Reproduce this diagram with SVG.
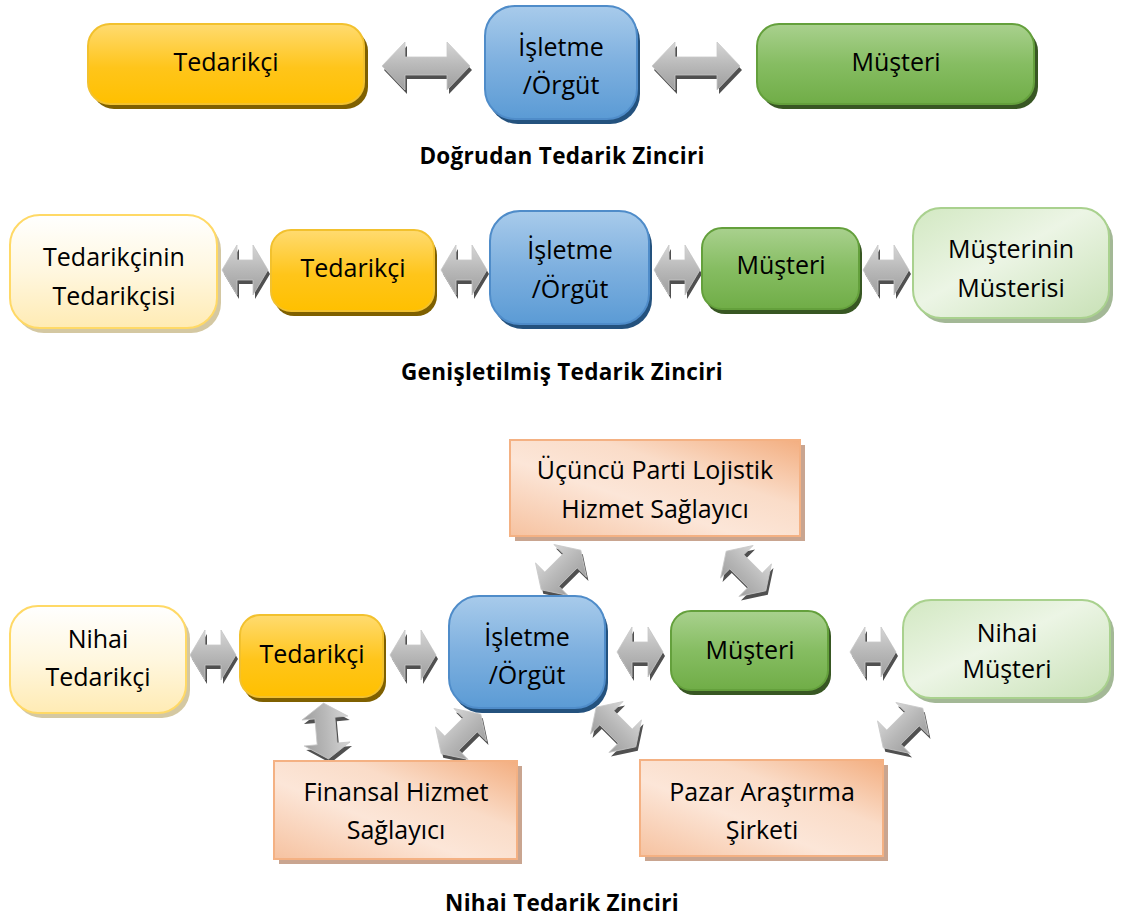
<svg xmlns="http://www.w3.org/2000/svg" xmlns:xlink="http://www.w3.org/1999/xlink" width="1122" height="920" viewBox="0 0 1122 920">
  <defs>
    <linearGradient id="gYellow" x1="0" y1="0" x2="0" y2="1">
      <stop offset="0" stop-color="#FFDB70"/>
      <stop offset="0.55" stop-color="#FFC51A"/>
      <stop offset="1" stop-color="#FFC000"/>
    </linearGradient>
    <linearGradient id="gBlue" x1="0" y1="0" x2="0" y2="1">
      <stop offset="0" stop-color="#A8CBEB"/>
      <stop offset="0.5" stop-color="#7EB0DF"/>
      <stop offset="1" stop-color="#5B9BD5"/>
    </linearGradient>
    <linearGradient id="gGreen" x1="0" y1="0" x2="0" y2="1">
      <stop offset="0" stop-color="#A9D18E"/>
      <stop offset="0.5" stop-color="#86BD62"/>
      <stop offset="1" stop-color="#70AD47"/>
    </linearGradient>
    <linearGradient id="gPaleYellow" x1="0" y1="0" x2="0" y2="1">
      <stop offset="0" stop-color="#FFFFFF"/>
      <stop offset="0.5" stop-color="#FFF7DF"/>
      <stop offset="1" stop-color="#FFEBB4"/>
    </linearGradient>
    <linearGradient id="gPaleGreen" x1="0" y1="0" x2="1" y2="1">
      <stop offset="0" stop-color="#D2E8C2"/>
      <stop offset="0.45" stop-color="#ECF5E5"/>
      <stop offset="1" stop-color="#C8E1B6"/>
    </linearGradient>
    <linearGradient id="gOrange" x1="0" y1="1" x2="1" y2="0">
      <stop offset="0" stop-color="#F6C2A0"/>
      <stop offset="0.4" stop-color="#FCE6D8"/>
      <stop offset="0.65" stop-color="#FADCC8"/>
      <stop offset="1" stop-color="#F3AE80"/>
    </linearGradient>
    <linearGradient id="gArrow" x1="0" y1="0" x2="0" y2="1">
      <stop offset="0" stop-color="#D6D6D6"/>
      <stop offset="0.5" stop-color="#B8B8B8"/>
      <stop offset="1" stop-color="#9E9E9E"/>
    </linearGradient>

    <!-- double-headed block arrows, centred on the origin, pointing along x -->
    <path id="arrowLong" d="M -44 0 L -21 -24 L -21 -9 L 21 -9 L 21 -24 L 44 0 L 21 24 L 21 9 L -21 9 L -21 24 Z"/>
    <path id="arrowShort" d="M -23 0 L -8 -25 L -8 -10 L 8 -10 L 8 -25 L 23 0 L 8 25 L 8 10 L -8 10 L -8 25 Z"/>
    <path id="arrowDiag" d="M -28 0 L -13 -23 L -13 -10 L 13 -10 L 13 -23 L 28 0 L 13 23 L 13 10 L -13 10 L -13 23 Z"/>
  </defs>

  <style>
    .label { font-family: "Open Sans", "Liberation Sans", sans-serif; font-size: 25px; fill: #000; text-anchor: middle; }
    .title { font-family: "Open Sans", "Liberation Sans", sans-serif; font-size: 22.5px; font-weight: bold; fill: #000; text-anchor: middle; letter-spacing: 0.3px; }
    .yellow { fill: url(#gYellow); stroke: #F2C12E; stroke-width: 2; }
    .yellow-sh { fill: #7F6000; }
    .blue { fill: url(#gBlue); stroke: #4F8CC9; stroke-width: 2; }
    .blue-sh { fill: #24527E; }
    .green { fill: url(#gGreen); stroke: #64A03C; stroke-width: 2; }
    .green-sh { fill: #385723; }
    .paleyellow { fill: url(#gPaleYellow); stroke: #FFD966; stroke-width: 2; }
    .paleyellow-sh { fill: #D4C8A2; }
    .palegreen { fill: url(#gPaleGreen); stroke: #A9D18E; stroke-width: 2; }
    .palegreen-sh { fill: #A3B896; }
    .orange { fill: url(#gOrange); stroke: #F4B183; stroke-width: 2; }
    .orange-sh { fill: #C9A590; }
    .arrow { fill: url(#gArrow); stroke: #C8C8C8; stroke-width: 0.8; }
    .arrow-sh { fill: #505050; }
  </style>

  <rect width="1122" height="920" fill="#FFFFFF"/>

  <!-- ===== connectors ===== -->
  <g id="connectors">
    <!-- direct chain -->
    <g transform="translate(426,66)"><use xlink:href="#arrowLong" class="arrow-sh" transform="translate(2,4)"/><use xlink:href="#arrowLong" class="arrow"/></g>
    <g transform="translate(696,66)"><use xlink:href="#arrowLong" class="arrow-sh" transform="translate(2,4)"/><use xlink:href="#arrowLong" class="arrow"/></g>

    <!-- extended chain -->
    <g transform="translate(245,270)"><use xlink:href="#arrowShort" class="arrow-sh" transform="translate(2,4)"/><use xlink:href="#arrowShort" class="arrow"/></g>
    <g transform="translate(464,270)"><use xlink:href="#arrowShort" class="arrow-sh" transform="translate(2,4)"/><use xlink:href="#arrowShort" class="arrow"/></g>
    <g transform="translate(677,270)"><use xlink:href="#arrowShort" class="arrow-sh" transform="translate(2,4)"/><use xlink:href="#arrowShort" class="arrow"/></g>
    <g transform="translate(886,270)"><use xlink:href="#arrowShort" class="arrow-sh" transform="translate(2,4)"/><use xlink:href="#arrowShort" class="arrow"/></g>

    <!-- ultimate chain, horizontal -->
    <g transform="translate(213,655)"><use xlink:href="#arrowShort" class="arrow-sh" transform="translate(2,4)"/><use xlink:href="#arrowShort" class="arrow"/></g>
    <g transform="translate(413,655)"><use xlink:href="#arrowShort" class="arrow-sh" transform="translate(2,4)"/><use xlink:href="#arrowShort" class="arrow"/></g>
    <g transform="translate(640,652)"><use xlink:href="#arrowShort" class="arrow-sh" transform="translate(2,4)"/><use xlink:href="#arrowShort" class="arrow"/></g>
    <g transform="translate(873,652)"><use xlink:href="#arrowShort" class="arrow-sh" transform="translate(2,4)"/><use xlink:href="#arrowShort" class="arrow"/></g>

    <!-- ultimate chain, service providers -->
    <g transform="translate(561,570)"><use xlink:href="#arrowDiag" class="arrow-sh" transform="translate(2,4) rotate(-45)"/><use xlink:href="#arrowDiag" class="arrow" transform="rotate(-45)"/></g>
    <g transform="translate(746,571)"><use xlink:href="#arrowDiag" class="arrow-sh" transform="translate(2,4) rotate(45)"/><use xlink:href="#arrowDiag" class="arrow" transform="rotate(45)"/></g>
    <g transform="translate(326,731)"><use xlink:href="#arrowDiag" class="arrow-sh" transform="translate(2,4) rotate(85)"/><use xlink:href="#arrowDiag" class="arrow" transform="rotate(85)"/></g>
    <g transform="translate(461,734)"><use xlink:href="#arrowDiag" class="arrow-sh" transform="translate(2,4) rotate(-45)"/><use xlink:href="#arrowDiag" class="arrow" transform="rotate(-45)"/></g>
    <g transform="translate(616,727)"><use xlink:href="#arrowDiag" class="arrow-sh" transform="translate(2,4) rotate(45)"/><use xlink:href="#arrowDiag" class="arrow" transform="rotate(45)"/></g>
    <g transform="translate(903,728)"><use xlink:href="#arrowDiag" class="arrow-sh" transform="translate(2,4) rotate(-45)"/><use xlink:href="#arrowDiag" class="arrow" transform="rotate(-45)"/></g>
  </g>

  <!-- ===== direct supply chain ===== -->
  <g id="d-tedarikci">
    <rect class="yellow-sh" x="92" y="29" width="276" height="80" rx="22"/>
    <rect class="yellow" x="88" y="24" width="276" height="80" rx="22"/>
    <text class="label" x="226" y="71">Tedarikçi</text>
  </g>
  <g id="d-isletme">
    <rect class="blue-sh" x="488" y="11" width="152" height="113" rx="30"/>
    <rect class="blue" x="485" y="6" width="152" height="113" rx="30"/>
    <text class="label" x="561" y="56">İşletme</text>
    <text class="label" x="561" y="94">/Örgüt</text>
  </g>
  <g id="d-musteri">
    <rect class="green-sh" x="761" y="29" width="277" height="80" rx="22"/>
    <rect class="green" x="757" y="24" width="277" height="80" rx="22"/>
    <text class="label" x="896" y="71">Müşteri</text>
  </g>
  <text class="title" x="562" y="164">Doğrudan Tedarik Zinciri</text>

  <!-- ===== extended supply chain ===== -->
  <g id="e-tedarikcinin-tedarikcisi">
    <rect class="paleyellow-sh" x="14" y="220" width="207" height="113" rx="30"/>
    <rect class="paleyellow" x="10" y="215" width="207" height="113" rx="30"/>
    <text class="label" x="114" y="266">Tedarikçinin</text>
    <text class="label" x="114" y="305">Tedarikçisi</text>
  </g>
  <g id="e-tedarikci">
    <rect class="yellow-sh" x="274" y="235" width="163" height="81" rx="20"/>
    <rect class="yellow" x="271" y="230" width="163" height="81" rx="20"/>
    <text class="label" x="353" y="277">Tedarikçi</text>
  </g>
  <g id="e-isletme">
    <rect class="blue-sh" x="493" y="216" width="159" height="113" rx="30"/>
    <rect class="blue" x="490" y="211" width="159" height="113" rx="30"/>
    <text class="label" x="570" y="259">İşletme</text>
    <text class="label" x="570" y="298">/Örgüt</text>
  </g>
  <g id="e-musteri">
    <rect class="green-sh" x="705" y="233" width="157" height="81" rx="20"/>
    <rect class="green" x="702" y="228" width="157" height="81" rx="20"/>
    <text class="label" x="781" y="274">Müşteri</text>
  </g>
  <g id="e-musterinin-musterisi">
    <rect class="palegreen-sh" x="917" y="213" width="196" height="110" rx="28"/>
    <rect class="palegreen" x="913" y="208" width="196" height="110" rx="28"/>
    <text class="label" x="1011" y="258">Müşterinin</text>
    <text class="label" x="1011" y="297">Müsterisi</text>
  </g>
  <text class="title" x="562" y="380">Genişletilmiş Tedarik Zinciri</text>

  <!-- ===== ultimate supply chain ===== -->
  <g id="u-lojistik">
    <rect class="orange-sh" x="515" y="445" width="290" height="96"/>
    <rect class="orange" x="510" y="440" width="290" height="96"/>
    <text class="label" x="655" y="479">Üçüncü Parti Lojistik</text>
    <text class="label" x="655" y="518">Hizmet Sağlayıcı</text>
  </g>
  <g id="u-nihai-tedarikci">
    <rect class="paleyellow-sh" x="14" y="611" width="176" height="107" rx="28"/>
    <rect class="paleyellow" x="10" y="606" width="176" height="107" rx="28"/>
    <text class="label" x="98" y="648">Nihai</text>
    <text class="label" x="98" y="686">Tedarikçi</text>
  </g>
  <g id="u-tedarikci">
    <rect class="yellow-sh" x="243" y="620" width="143" height="82" rx="20"/>
    <rect class="yellow" x="240" y="615" width="143" height="82" rx="20"/>
    <text class="label" x="312" y="663">Tedarikçi</text>
  </g>
  <g id="u-isletme">
    <rect class="blue-sh" x="452" y="601" width="156" height="112" rx="30"/>
    <rect class="blue" x="449" y="596" width="156" height="112" rx="30"/>
    <text class="label" x="527" y="646">İşletme</text>
    <text class="label" x="527" y="684">/Örgüt</text>
  </g>
  <g id="u-musteri">
    <rect class="green-sh" x="674" y="616" width="157" height="79" rx="20"/>
    <rect class="green" x="671" y="611" width="157" height="79" rx="20"/>
    <text class="label" x="750" y="659">Müşteri</text>
  </g>
  <g id="u-nihai-musteri">
    <rect class="palegreen-sh" x="907" y="605" width="207" height="98" rx="28"/>
    <rect class="palegreen" x="903" y="600" width="207" height="98" rx="28"/>
    <text class="label" x="1007" y="642">Nihai</text>
    <text class="label" x="1007" y="678">Müşteri</text>
  </g>
  <g id="u-finansal">
    <rect class="orange-sh" x="279" y="766" width="243" height="98"/>
    <rect class="orange" x="274" y="761" width="243" height="98"/>
    <text class="label" x="396" y="801">Finansal Hizmet</text>
    <text class="label" x="396" y="839">Sağlayıcı</text>
  </g>
  <g id="u-pazar">
    <rect class="orange-sh" x="645" y="765" width="243" height="96"/>
    <rect class="orange" x="640" y="760" width="243" height="96"/>
    <text class="label" x="762" y="801">Pazar Araştırma</text>
    <text class="label" x="762" y="839">Şirketi</text>
  </g>
  <text class="title" x="562" y="911">Nihai Tedarik Zinciri</text>
</svg>
